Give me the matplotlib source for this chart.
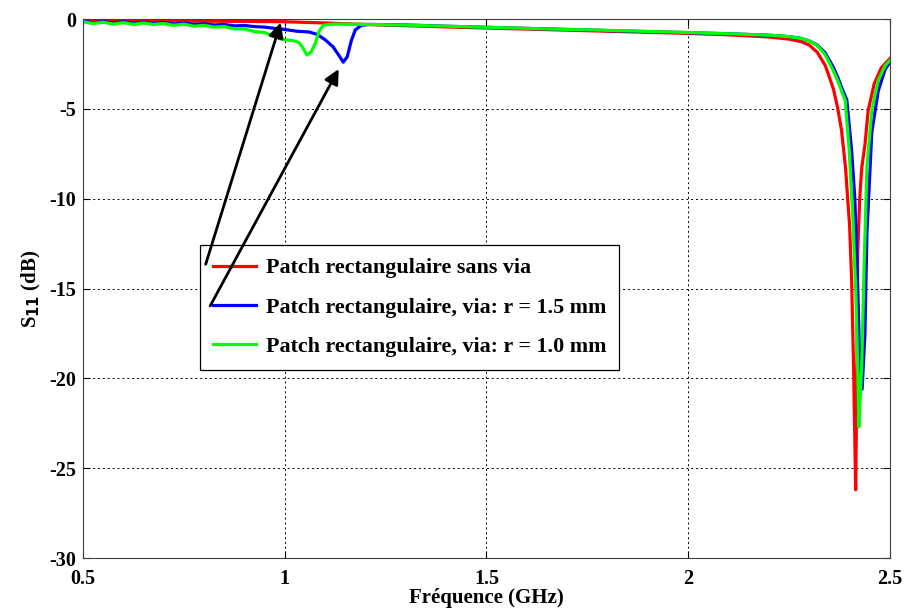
import matplotlib.pyplot as plt

# valeurs (GHz, dB)
f_sans = [0.50, 0.60, 0.70, 0.80, 0.90, 1.00, 1.10, 1.20, 1.30, 1.40, 1.50, 1.60,
          1.70, 1.80, 1.90, 2.00, 2.10, 2.20, 2.25, 2.28, 2.30, 2.32, 2.34, 2.36,
          2.37, 2.38, 2.39, 2.40, 2.405, 2.41, 2.415, 2.418, 2.42, 2.425, 2.43,
          2.438, 2.446, 2.461, 2.479, 2.50]
s_sans = [-0.08, -0.10, -0.10, -0.12, -0.13, -0.15, -0.22, -0.30, -0.37, -0.44, -0.50, -0.56,
          -0.62, -0.68, -0.74, -0.80, -0.88, -1.00, -1.12, -1.26, -1.45, -1.85, -2.6, -3.9,
          -4.9, -6.2, -8.3, -11.5, -14.5, -19.5, -26.2, -20.0, -13.0, -10.0, -8.3,
          -7.0, -5.1, -3.6, -2.7, -2.2]

f_15 = [0.50, 0.525, 0.55, 0.575, 0.60, 0.625, 0.65, 0.675, 0.70, 0.725, 0.75, 0.775,
        0.80, 0.825, 0.85, 0.875, 0.90, 0.925, 0.95, 0.975, 1.00, 1.03, 1.06, 1.08,
        1.10, 1.12, 1.135, 1.145, 1.155, 1.165, 1.175, 1.19, 1.21, 1.30, 1.40, 1.50,
        1.60, 1.70, 1.80, 1.90, 2.00, 2.10, 2.20, 2.25, 2.28, 2.30, 2.32, 2.34, 2.36,
        2.37, 2.38, 2.393, 2.405, 2.413, 2.421, 2.425, 2.431, 2.438, 2.443, 2.455,
        2.471, 2.488, 2.50]
s_15 = [-0.12, -0.20, -0.14, -0.22, -0.15, -0.24, -0.17, -0.25, -0.20, -0.28, -0.22, -0.30,
        -0.26, -0.33, -0.30, -0.38, -0.36, -0.42, -0.45, -0.52, -0.58, -0.68, -0.72, -0.85,
        -1.15, -1.55, -2.05, -2.40, -2.10, -1.20, -0.60, -0.35, -0.30, -0.33, -0.40, -0.46,
        -0.52, -0.58, -0.64, -0.70, -0.76, -0.82, -0.90, -0.98, -1.08, -1.22, -1.45, -1.90, -2.7,
        -3.2, -3.8, -4.5, -7.3, -10.0, -15.6, -19.0, -20.6, -17.5, -11.9, -6.3,
        -4.0, -2.8, -2.4]

f_10 = [0.50, 0.525, 0.55, 0.575, 0.60, 0.625, 0.65, 0.675, 0.70, 0.725, 0.75, 0.775,
        0.80, 0.825, 0.85, 0.875, 0.90, 0.925, 0.95, 0.97, 0.99, 1.00, 1.02, 1.035,
        1.045, 1.055, 1.065, 1.075, 1.085, 1.095, 1.11, 1.13, 1.20, 1.30, 1.40, 1.50,
        1.60, 1.70, 1.80, 1.90, 2.00, 2.10, 2.20, 2.25, 2.28, 2.30, 2.32, 2.34, 2.36,
        2.37, 2.38, 2.389, 2.399, 2.408, 2.416, 2.421, 2.423, 2.430, 2.436, 2.443,
        2.455, 2.471, 2.488, 2.50]
s_10 = [-0.15, -0.25, -0.18, -0.28, -0.20, -0.30, -0.22, -0.30, -0.25, -0.35, -0.28, -0.40,
        -0.35, -0.45, -0.42, -0.55, -0.55, -0.70, -0.75, -0.95, -1.10, -1.15, -1.20, -1.30,
        -1.60, -2.00, -1.85, -1.40, -0.70, -0.35, -0.30, -0.28, -0.30, -0.34, -0.40, -0.46,
        -0.52, -0.58, -0.63, -0.69, -0.75, -0.82, -0.90, -0.98, -1.08, -1.22, -1.48, -2.0, -2.9,
        -3.4, -4.0, -4.5, -7.3, -11.0, -15.6, -20.3, -22.7, -19.3, -13.8, -8.2,
        -5.1, -3.4, -2.6, -2.3]

labels = ['Patch rectangulaire sans via',
          'Patch rectangulaire, via: r = 1.5 mm',
          'Patch rectangulaire, via: r = 1.0 mm']

plt.rcParams['font.family'] = 'Liberation Serif'
plt.rcParams['font.weight'] = 'bold'
plt.rcParams['axes.labelweight'] = 'bold'
plt.rcParams['axes.unicode_minus'] = False

fig = plt.figure(figsize=(9.07, 6.10), dpi=100)
ax = fig.add_axes([0.0915, 0.0852, 0.8897, 0.8836])

ax.plot(f_sans, s_sans, color='#ff0000', lw=2.3, label=labels[0])
ax.plot(f_15, s_15, color='#0000ff', lw=2.3, label=labels[1])
ax.plot(f_10, s_10, color='#00ff00', lw=2.3, label=labels[2])

ax.set_xlim(0.5, 2.5)
ax.set_ylim(-30, 0)
ax.set_xticks([0.5, 1, 1.5, 2, 2.5])
ax.set_xticklabels(['0.5', '1', '1.5', '2', '2.5'])
ax.set_yticks([-30, -25, -20, -15, -10, -5, 0])
ax.grid(True, color='black', linestyle=(0, (2, 3)), linewidth=0.7)
ax.tick_params(direction='in', top=True, right=True, labelsize=14.5, length=5)
ax.tick_params(axis='x', pad=8)
ax.tick_params(axis='y', pad=5)
for sp in ax.spines.values():
    sp.set_color('#404040')

ax.set_xlabel('Fréquence (GHz)', fontsize=15, labelpad=-1)
ax.set_ylabel('S$_{\\mathbf{11}}$ (dB)', fontsize=15, labelpad=4)

leg = ax.legend(loc='upper left', bbox_to_anchor=(0.145, 0.581), borderaxespad=0,
                fontsize=15.8, frameon=True, fancybox=False, edgecolor='black',
                handlelength=1.95, handletextpad=0.45, borderpad=0.6,
                labelspacing=0.86, framealpha=1)
leg.get_frame().set_linewidth(0.9)

# flèches vers les résonances parasites
ax.annotate('', xy=(0.992, -0.05), xytext=(0.802, -13.8), zorder=10,
            arrowprops=dict(arrowstyle='-|>', color='black', lw=2, mutation_scale=22))
ax.annotate('', xy=(1.137, -2.65), xytext=(0.812, -16.1), zorder=10,
            arrowprops=dict(arrowstyle='-|>', color='black', lw=2, mutation_scale=22))

fig.savefig('out.png', dpi=100)
